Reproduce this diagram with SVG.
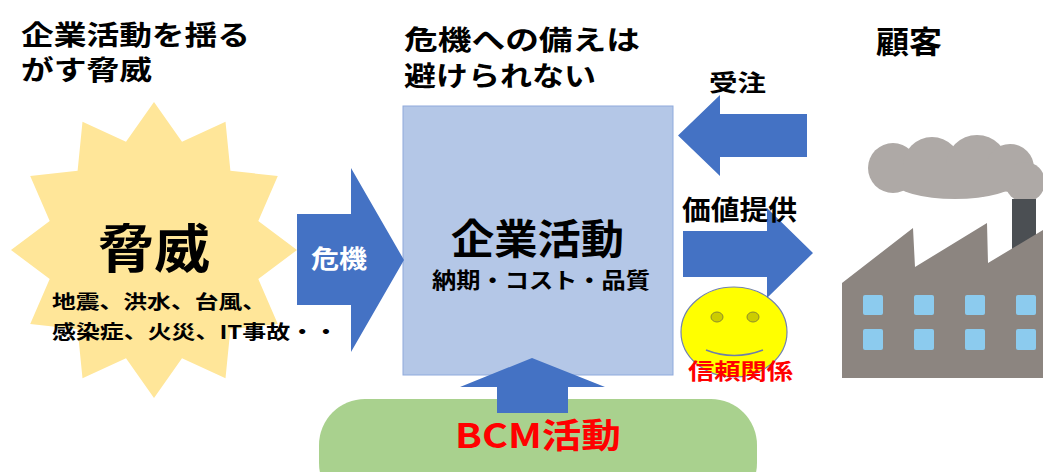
<svg xmlns="http://www.w3.org/2000/svg" width="1043" height="472" viewBox="0 0 1043 472">
  <style>
    text { font-family: "Noto Sans CJK JP", "Noto Sans", sans-serif; font-weight: 700; }
    .ink { fill: #000000; }
    .red { fill: #FF0000; }
    .white { fill: #FFFFFF; }
    .arrow { fill: #4472C4; }
    .window { fill: #8CCBEE; }
  </style>

  <rect width="1043" height="472" fill="#FFFFFF"/>

  <!-- headings -->
  <g id="heading-threat">
    <text class="ink" x="21" y="45" font-size="27" textLength="229" lengthAdjust="spacingAndGlyphs">企業活動を揺る</text>
    <text class="ink" x="21" y="80" font-size="27" textLength="131" lengthAdjust="spacingAndGlyphs">がす脅威</text>
  </g>
  <g id="heading-crisis">
    <text class="ink" x="404" y="50" font-size="27" textLength="236" lengthAdjust="spacingAndGlyphs">危機への備えは</text>
    <text class="ink" x="404" y="86" font-size="27" textLength="192" lengthAdjust="spacingAndGlyphs">避けられない</text>
  </g>
  <g id="heading-customer">
    <text class="ink" x="876" y="53" font-size="31" textLength="66" lengthAdjust="spacingAndGlyphs">顧客</text>
  </g>

  <!-- threat burst -->
  <g id="threat">
    <polygon fill="#FFE699" points="154,102 182,141.8 225.5,121.8 230.4,170.8 277.8,176 258.3,221 297,250 258.3,279 277.8,324 230.4,329.2 225.5,378.2 182,358.2 154,398 126,358.2 82.5,378.2 77.6,329.2 30.2,324 49.7,279 11,250 49.7,221 30.2,176 77.6,170.8 82.5,121.8 126,141.8"/>
    <text class="ink" x="98" y="268" font-size="52" textLength="112" lengthAdjust="spacingAndGlyphs">脅威</text>
    <text class="ink" x="52" y="309" font-size="19" textLength="214" lengthAdjust="spacingAndGlyphs">地震、洪水、台風、</text>
    <text class="ink" x="52" y="339" font-size="19" textLength="286" lengthAdjust="spacingAndGlyphs">感染症、火災、IT事故・・</text>
  </g>

  <!-- BCM activity base -->
  <g id="bcm">
    <rect x="319" y="399" width="438" height="110" rx="46" ry="46" fill="#A9D18E"/>
  </g>

  <!-- business activity -->
  <g id="business">
    <rect x="403" y="106" width="270" height="269" fill="#B4C7E7" stroke="#8FAADC" stroke-width="1"/>
    <text class="ink" x="451" y="254" font-size="41" textLength="173" lengthAdjust="spacingAndGlyphs">企業活動</text>
    <text class="ink" x="432" y="288" font-size="22" textLength="218" lengthAdjust="spacingAndGlyphs">納期・コスト・品質</text>
  </g>

  <!-- trust smiley -->
  <g id="trust">
    <ellipse cx="734" cy="332" rx="53" ry="45" fill="#FFFF00" stroke="#7282AE" stroke-width="1.2"/>
    <ellipse cx="717" cy="317" rx="6" ry="5" fill="#CCCC00" stroke="#8C8C2E" stroke-width="1"/>
    <ellipse cx="753" cy="317" rx="6" ry="5" fill="#CCCC00" stroke="#8C8C2E" stroke-width="1"/>
    <path d="M706,350 Q734,361 763,350" fill="none" stroke="#6E7FA8" stroke-width="1.5"/>
  </g>

  <!-- customer factory -->
  <g id="customer">
    <!-- smoke cloud -->
    <g fill="#AEA9A6">
      <circle cx="893" cy="168" r="25"/>
      <circle cx="932" cy="166" r="29"/>
      <circle cx="977" cy="166" r="31"/>
      <circle cx="1010" cy="168" r="24"/>
      <circle cx="1025" cy="182" r="20"/>
      <ellipse cx="955" cy="182" rx="60" ry="17"/>
      <rect x="880" y="165" width="140" height="20"/>
    </g>
    <rect x="1012" y="199" width="24" height="53" fill="#4B4F53"/>
    <polygon fill="#8C8580" points="842,378 842,283 913,228 915,267 987,223 988,263 1043,230 1043,378"/>
    <g>
      <rect class="window" x="863" y="295" width="20" height="20" rx="2"/>
      <rect class="window" x="914" y="295" width="20" height="20" rx="2"/>
      <rect class="window" x="965" y="295" width="20" height="20" rx="2"/>
      <rect class="window" x="1016" y="295" width="20" height="20" rx="2"/>
      <rect class="window" x="863" y="329" width="20" height="21" rx="2"/>
      <rect class="window" x="914" y="329" width="20" height="21" rx="2"/>
      <rect class="window" x="965" y="329" width="20" height="21" rx="2"/>
      <rect class="window" x="1016" y="329" width="20" height="21" rx="2"/>
    </g>
  </g>

  <!-- connectors: block arrows -->
  <g id="connectors">
    <g id="arrow-crisis">
      <polygon class="arrow" points="297,214 351,214 351,168 404,260 351,352 351,305 297,305"/>
      <text class="white" x="311" y="268" font-size="25" textLength="56" lengthAdjust="spacingAndGlyphs">危機</text>
    </g>
    <g id="arrow-order">
      <polygon class="arrow" points="807,114 720,114 720,95 678,135.5 720,176 720,157 807,157"/>
      <text class="ink" x="709" y="91" font-size="23" textLength="57" lengthAdjust="spacingAndGlyphs">受注</text>
    </g>
    <g id="arrow-value">
      <polygon class="arrow" points="683,231 767,231 767,208 813,253 767,298 767,277 683,277"/>
      <text class="ink" x="682" y="220" font-size="27" textLength="115" lengthAdjust="spacingAndGlyphs">価値提供</text>
    </g>
    <g id="arrow-bcm">
      <polygon class="arrow" points="532,358 605,387 568,387 568,413 497,413 497,387 460,387"/>
    </g>
  </g>

  <!-- labels drawn over shapes -->
  <text class="red" x="688" y="379" font-size="22" textLength="105" lengthAdjust="spacingAndGlyphs">信頼関係</text>
  <text class="red" x="455" y="448" font-size="34" textLength="166" lengthAdjust="spacingAndGlyphs">BCM活動</text>
</svg>
